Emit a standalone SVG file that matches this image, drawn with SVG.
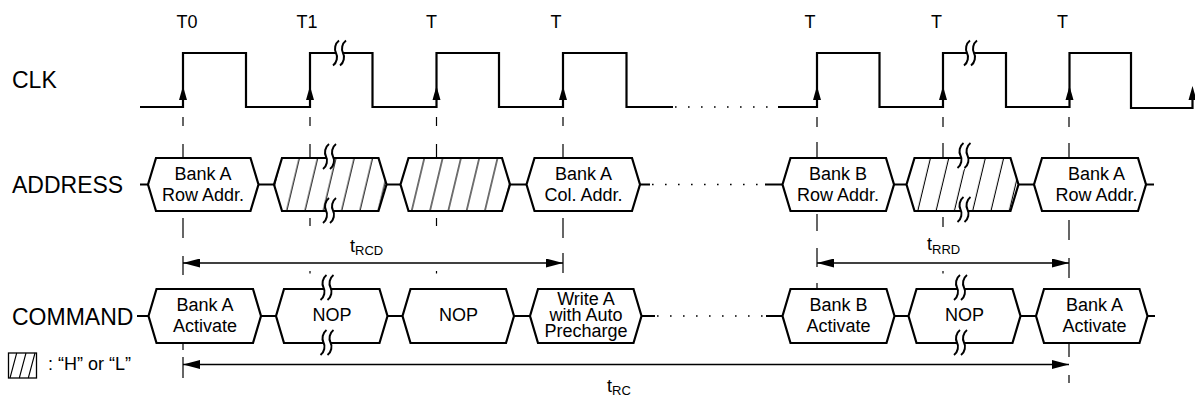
<svg xmlns="http://www.w3.org/2000/svg" xmlns:xlink="http://www.w3.org/1999/xlink" width="1195" height="399" viewBox="0 0 1195 399">
<style>
text{font-family:"Liberation Sans",Arial,Helvetica,sans-serif;fill:#000}
.lbl{font-size:23px}
.tk{font-size:18px;text-anchor:middle}
.bt{font-size:18px;text-anchor:middle}
.tm{font-size:18px}
.sub{font-size:13px}
.box{fill:#fff;stroke:#000;stroke-width:2.2;stroke-linejoin:miter}
.wave{fill:none;stroke:#000;stroke-width:2.2;stroke-linejoin:miter}
.stub{fill:none;stroke:#000;stroke-width:2.2}
.dots{fill:none;stroke:#000;stroke-width:1.6;stroke-dasharray:1.6 11.4}
.dash{fill:none;stroke:#000;stroke-width:1.2}
.dim{fill:none;stroke:#000;stroke-width:1.3}
.sq{fill:none;stroke:#000;stroke-width:2}
</style>
<defs>
<marker id="ah" viewBox="0 0 17 9" refX="17" refY="4.5" markerWidth="17" markerHeight="9" markerUnits="userSpaceOnUse" orient="auto-start-reverse"><path d="M0,0 L17,4.5 L0,9 Z" fill="#000"/></marker>
<path id="up" d="M0,0 L4,14 L-4,14 Z" fill="#000"/>
<g id="brk">
<path d="M6.5,0 C2.5,3 1.5,9 3.5,12.5 C5.5,16 4.5,22 0.5,25" fill="none" stroke="#fff" stroke-width="6"/>
<path class="sq" d="M3,0 C-1,3 -2,9 0,12.5 C2,16 1,22 -3,25"/>
<path class="sq" d="M10,0 C6,3 5,9 7,12.5 C9,16 8,22 4,25"/>
</g>
<pattern id="hA" patternUnits="userSpaceOnUse" width="18.3" height="400" patternTransform="skewX(-13.5)"><rect width="18.3" height="400" fill="#fff"/><line x1="7.9" y1="0" x2="7.9" y2="400" stroke="#000" stroke-width="1.1"/></pattern>
<pattern id="hB" patternUnits="userSpaceOnUse" width="18.3" height="400" patternTransform="skewX(-13.5)"><rect width="18.3" height="400" fill="#fff"/><line x1="4.8" y1="0" x2="4.8" y2="400" stroke="#000" stroke-width="1.1"/></pattern>
<pattern id="hC" patternUnits="userSpaceOnUse" width="18.3" height="400" patternTransform="skewX(-13.5)"><rect width="18.3" height="400" fill="#fff"/><line x1="16.8" y1="0" x2="16.8" y2="400" stroke="#000" stroke-width="1.1"/></pattern>
</defs>

<g id="labels">
<text class="lbl" x="12" y="88">CLK</text>
<text class="lbl" x="12" y="193">ADDRESS</text>
<text class="lbl" x="12" y="325">COMMAND</text>
<text class="tk" x="187" y="28">T0</text>
<text class="tk" x="307" y="28">T1</text>
<text class="tk" x="431.5" y="28">T</text>
<text class="tk" x="556" y="28">T</text>
<text class="tk" x="810" y="28">T</text>
<text class="tk" x="936.5" y="28">T</text>
<text class="tk" x="1062.5" y="28">T</text>
</g>

<g id="connectors">
<path class="dash" d="M183,117V126 M183,144V157.5 M183,218V238 M183,256V275 M183,343V350 M183,357V378"/>
<path class="dash" d="M310,117V126 M310,144V157.5 M310,218V226 M310,271V273.5"/>
<path class="dash" d="M436.5,117V126 M436.5,144V157.5 M436.5,218V226 M436.5,271V273.5"/>
<path class="dash" d="M563,117V126 M563,144V157.5 M563,218V238 M563,253V273"/>
<path class="dash" d="M817,117V127 M817,142V157.5 M817,214V231 M817,248V267 M817,283V289"/>
<path class="dash" d="M943,117V127 M943,143V157 M943,217V227 M943,271V273.5"/>
<path class="dash" d="M1069,117V127 M1069,143V157.5 M1069,220V240 M1069,258V278 M1069,343V357 M1069,375V383"/>
<path class="stub" d="M140,184.5H148 M258.5,184.5H274 M386.5,184.5H400.5 M510,184.5H526.5 M640,184.5H650 M765,184.5H782.5 M894,184.5H906.5 M1018.5,184.5H1034 M1146,184.5H1154"/>
<path class="dots" d="M652,184.5H765"/>
<path class="stub" d="M137,316H148.5 M261,316H276 M387.5,316H402.5 M514,316H530 M641.5,316H655 M766,316H782.5 M894.5,316H908.5 M1020.5,316H1036 M1147.5,316H1155"/>
<path class="dots" d="M657,316H766"/>
<line class="dim" x1="183" y1="263" x2="563" y2="263" marker-start="url(#ah)" marker-end="url(#ah)"/>
<line class="dim" x1="817" y1="263" x2="1069" y2="263" marker-start="url(#ah)" marker-end="url(#ah)"/>
<line class="dim" x1="183" y1="364.5" x2="1069" y2="364.5" marker-start="url(#ah)" marker-end="url(#ah)"/>
<text class="tm" x="350" y="252">t<tspan class="sub" dy="3">RCD</tspan></text>
<text class="tm" x="927" y="250">t<tspan class="sub" dy="3.5">RRD</tspan></text>
<text class="tm" x="607" y="392">t<tspan class="sub" dy="3">RC</tspan></text>
</g>

<g id="clk">
<path class="wave" d="M140,107 H183 V53 H246 V107 H310 V53 H372.5 V107 H436.5 V53 H499 V107 H563 V53 H626.5 V107 H673"/>
<path class="dots" d="M675,107H778"/>
<path class="wave" d="M778,107 H817 V53 H879.5 V107 H943 V53 H1006 V107 H1069.5 V53 H1131 V108 H1192.5 V96"/>
<use href="#up" x="183" y="86"/>
<use href="#up" x="310" y="86"/>
<use href="#up" x="436.5" y="86"/>
<use href="#up" x="563" y="86"/>
<use href="#up" x="817" y="86"/>
<use href="#up" x="943" y="86"/>
<use href="#up" x="1069.5" y="86"/>
<use href="#up" x="1192.5" y="86"/>
<use href="#brk" x="336" y="40.5"/>
<use href="#brk" x="967" y="40.5"/>
</g>

<g id="addr1">
<path class="box" d="M148,184.5 L156,158 H250.5 L258.5,184.5 L250.5,211 H156 Z"/>
<text class="bt" x="203" y="179.5">Bank A</text>
<text class="bt" x="203" y="201">Row Addr.</text>
</g>
<g id="addr2">
<path class="box" style="fill:url(#hA)" d="M274,184.5 L282,158 H378.5 L386.5,184.5 L378.5,211 H282 Z"/>
<use href="#brk" x="326" y="144"/>
<use href="#brk" x="326" y="198"/>
</g>
<g id="addr3">
<path class="box" style="fill:url(#hB)" d="M400.5,184.5 L408.5,158 H502 L510,184.5 L502,211 H408.5 Z"/>
</g>
<g id="addr4">
<path class="box" d="M526.5,184.5 L534.5,158 H632 L640,184.5 L632,211 H534.5 Z"/>
<text class="bt" x="583.5" y="179.5">Bank A</text>
<text class="bt" x="583.5" y="201">Col. Addr.</text>
</g>
<g id="addr5">
<path class="box" d="M782.5,184.5 L790.5,158 H886 L894,184.5 L886,211 H790.5 Z"/>
<text class="bt" x="838" y="179.5">Bank B</text>
<text class="bt" x="838" y="201">Row Addr.</text>
</g>
<g id="addr6">
<path class="box" style="fill:url(#hC)" d="M906.5,184.5 L914.5,158 H1010.5 L1018.5,184.5 L1010.5,211 H914.5 Z"/>
<use href="#brk" x="960.5" y="143"/>
<use href="#brk" x="960.5" y="197"/>
</g>
<g id="addr7">
<path class="box" d="M1034,184.5 L1042,158 H1138 L1146,184.5 L1138,211 H1042 Z"/>
<text class="bt" x="1096.5" y="179.5">Bank A</text>
<text class="bt" x="1096.5" y="201">Row Addr.</text>
</g>

<g id="cmd1">
<path class="box" d="M148.5,316 L156.5,289 H253 L261,316 L253,343 H156.5 Z"/>
<text class="bt" x="205" y="310.5">Bank A</text>
<text class="bt" x="205" y="331.5">Activate</text>
</g>
<g id="cmd2">
<path class="box" d="M276,316 L284,289 H379.5 L387.5,316 L379.5,343 H284 Z"/>
<text class="bt" x="332" y="321">NOP</text>
<use href="#brk" x="323.5" y="275"/>
<use href="#brk" x="323.5" y="330"/>
</g>
<g id="cmd3">
<path class="box" d="M402.5,316 L410.5,289 H506 L514,316 L506,343 H410.5 Z"/>
<text class="bt" x="458.5" y="321">NOP</text>
</g>
<g id="cmd4">
<path class="box" d="M530,316 L538,289 H633.5 L641.5,316 L633.5,343 H538 Z"/>
<text class="bt" x="586" y="304.5">Write A</text>
<text class="bt" x="586" y="320.5">with Auto</text>
<text class="bt" x="586" y="336.5">Precharge</text>
</g>
<g id="cmd5">
<path class="box" d="M782.5,316 L790.5,289 H886.5 L894.5,316 L886.5,343 H790.5 Z"/>
<text class="bt" x="838.5" y="310.5">Bank B</text>
<text class="bt" x="838.5" y="331.5">Activate</text>
</g>
<g id="cmd6">
<path class="box" d="M908.5,316 L916.5,289 H1012.5 L1020.5,316 L1012.5,343 H916.5 Z"/>
<text class="bt" x="964.5" y="321">NOP</text>
<use href="#brk" x="957" y="275"/>
<use href="#brk" x="957" y="330"/>
</g>
<g id="cmd7">
<path class="box" d="M1036,316 L1044,289 H1139.5 L1147.5,316 L1139.5,343 H1044 Z"/>
<text class="bt" x="1094.5" y="310.5">Bank A</text>
<text class="bt" x="1094.5" y="331.5">Activate</text>
</g>

<g id="legend">
<rect x="8.5" y="353" width="28" height="25" fill="#fff" stroke="#000" stroke-width="1.3"/>
<path d="M10,378 L16.7,353 M19.3,378 L26,353 M28.3,378 L35,353" fill="none" stroke="#000" stroke-width="1.1"/>
<text class="tm" x="48" y="370">: “H” or “L”</text>
</g>
</svg>
